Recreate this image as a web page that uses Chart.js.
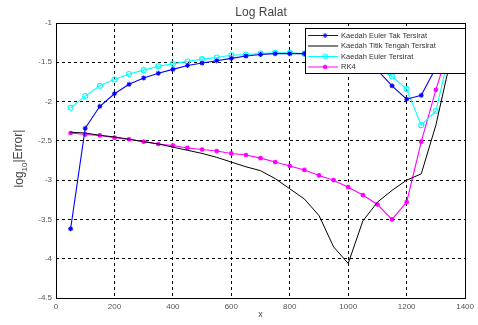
<!DOCTYPE html>
<html>
<head>
<meta charset="utf-8">
<script src="https://cdn.jsdelivr.net/npm/chart.js@4/dist/chart.umd.min.js"></script>
<style>
html,body{margin:0;padding:0;background:#fff;}
#wrap{width:478px;height:325px;position:relative;}
</style>
</head>
<body>
<div id="wrap"><canvas id="c" width="478" height="325"></canvas></div>
<script>
const chartTitle = "Log Ralat";
const xLabel = "x";
const xValues = [50,100,150,200,250,300,350,400,450,500,550,600,650,700,750,800,850,900,950,1000,1050,1100,1150,1200,1250,1300,1350];
const seriesNames = ["Kaedah Euler Tak Tersirat","Kaedah Titik Tengah Tersirat","Kaedah Euler Tersirat","RK4"];
const eulerTakTersirat = [-3.62,-2.34,-2.06,-1.90,-1.78,-1.70,-1.64,-1.59,-1.54,-1.51,-1.48,-1.45,-1.42,-1.40,-1.39,-1.39,-1.39,-1.40,-1.42,-1.45,-1.50,-1.60,-1.80,-1.97,-1.92,-1.57,-1.25];
const titikTengahTersirat = [-2.39,-2.40,-2.43,-2.45,-2.48,-2.51,-2.54,-2.58,-2.62,-2.66,-2.71,-2.77,-2.83,-2.88,-2.98,-3.11,-3.24,-3.45,-3.85,-4.06,-3.52,-3.28,-3.13,-3.00,-2.92,-2.30,-1.47];
const eulerTersirat = [-2.08,-1.93,-1.80,-1.72,-1.65,-1.60,-1.55,-1.52,-1.49,-1.46,-1.44,-1.41,-1.40,-1.39,-1.38,-1.38,-1.39,-1.40,-1.42,-1.45,-1.50,-1.58,-1.68,-1.84,-2.30,-2.12,-1.32];
const rk4 = [-2.40,-2.42,-2.43,-2.46,-2.48,-2.51,-2.54,-2.56,-2.59,-2.61,-2.63,-2.66,-2.68,-2.72,-2.77,-2.82,-2.87,-2.94,-3.00,-3.09,-3.19,-3.31,-3.50,-3.28,-2.51,-1.85,-1.25];
const xTicks = [0,200,400,600,800,1000,1200,1400];
const yTicks = [-1,-1.5,-2,-2.5,-3,-3.5,-4,-4.5];

function pts(ys){ return xValues.map((x,i)=>({x:x,y:ys[i]})); }

const FONT = "'Liberation Sans', Arial, sans-serif";

const decor = {
  id:'decor',
  afterDatasetsDraw(chart){
    const ctx = chart.ctx, a = chart.chartArea;
    ctx.save();
    ctx.strokeStyle = '#000'; ctx.lineWidth = 1; ctx.setLineDash([]);
    ctx.strokeRect(Math.round(a.left)+0.5, Math.round(a.top)+0.5, Math.round(a.right-a.left), Math.round(a.bottom-a.top));
    // legend box inside plot, top-right
    const bx = a.right - 160, by = a.top + 5, bw = 160, bh = 45;
    ctx.fillStyle = '#fff';
    ctx.fillRect(bx, by, bw, bh);
    ctx.strokeRect(Math.round(bx)+0.5, Math.round(by)+0.5, bw, bh);
    const rowH = 10.5;
    chart.data.datasets.forEach((ds,i)=>{
      const y = by + 7 + i*rowH;
      ctx.strokeStyle = ds.borderColor; ctx.lineWidth = 1;
      ctx.beginPath(); ctx.moveTo(bx+3, y+0.5); ctx.lineTo(bx+33, y+0.5); ctx.stroke();
      if (ds.pointRadius > 0) {
        ctx.fillStyle = ds.pointBackgroundColor; ctx.strokeStyle = ds.borderColor; ctx.lineWidth = 1;
        Chart.helpers.drawPoint(ctx, {pointStyle: ds.pointStyle, radius: ds.pointRadius, rotation: 0, borderWidth: 1}, bx+20, y+0.5);
      }
      ctx.fillStyle = '#333';
      ctx.font = "7.5px " + FONT;
      ctx.textBaseline = 'middle'; ctx.textAlign = 'left';
      ctx.fillText(ds.label, bx+36, y+0.5);
    });
    ctx.restore();
  },
  afterDraw(chart){
    const ctx = chart.ctx, a = chart.chartArea;
    ctx.save();
    ctx.fillStyle = '#444';
    ctx.textAlign = 'center'; ctx.textBaseline = 'middle';
    ctx.font = "12px " + FONT;
    ctx.fillText(chartTitle, (a.left+a.right)/2 + 0.5, 13);
    ctx.font = "9px " + FONT;
    ctx.fillText(xLabel, (a.left+a.right)/2, 315);
    // y label with subscript
    ctx.translate(20, (a.top+a.bottom)/2 - 2);
    ctx.rotate(-Math.PI/2);
    const f1 = "12px " + FONT, f2 = "8px " + FONT;
    ctx.font = f1; const w1 = ctx.measureText("log").width;
    ctx.font = f2; const w2 = ctx.measureText("10").width;
    ctx.font = f1; const w3 = ctx.measureText("|Error|").width;
    let x0 = -(w1+w2+w3)/2;
    ctx.textAlign = 'left';
    ctx.font = f1; ctx.fillText("log", x0, 0);
    ctx.font = f2; ctx.fillText("10", x0+w1, 5);
    ctx.font = f1; ctx.fillText("|Error|", x0+w1+w2, -1);
    ctx.restore();
  }
};

new Chart(document.getElementById('c'), {
  type: 'line',
  data: {
    datasets: [
      {label: seriesNames[0], data: pts(eulerTakTersirat), borderColor:'#0000ff', backgroundColor:'#0000ff', pointBackgroundColor:'#0000ff', pointStyle:'star', pointRadius:2.5, borderWidth:1.1},
      {label: seriesNames[1], data: pts(titikTengahTersirat), borderColor:'#000000', backgroundColor:'#000000', pointBackgroundColor:'#000000', pointRadius:0, borderWidth:1},
      {label: seriesNames[2], data: pts(eulerTersirat), borderColor:'#00ffff', backgroundColor:'#00ffff', pointBackgroundColor:'rgba(0,0,0,0)', pointStyle:'circle', pointRadius:2.5, borderWidth:1.1},
      {label: seriesNames[3], data: pts(rk4), borderColor:'#ff00ff', backgroundColor:'#ff00ff', pointBackgroundColor:'#ff00ff', pointStyle:'circle', pointRadius:1.8, borderWidth:1.1}
    ]
  },
  options: {
    responsive:false, animation:false, devicePixelRatio:1,
    layout:{padding:{top:23,right:5,left:0,bottom:0}},
    elements:{line:{tension:0}, point:{borderWidth:1, hoverRadius:3}},
    plugins:{legend:{display:false}, title:{display:false}, tooltip:{enabled:false}},
    scales:{
      x:{type:'linear', min:0, max:1400,
        afterBuildTicks(s){ s.ticks = xTicks.map(v=>({value:v})); },
        afterFit(s){ s.height = 27; },
        grid:{color:'#000', lineWidth:1, drawTicks:false},
        border:{display:false, dash:[3,3]},
        ticks:{color:'#555', font:{size:8, family:FONT}, padding:4, maxRotation:0, autoSkip:false, callback:v=>String(v)}
      },
      y:{type:'linear', min:-4.5, max:-1,
        afterBuildTicks(s){ s.ticks = yTicks.map(v=>({value:v})); },
        afterFit(s){ s.width = 56; },
        grid:{color:'#000', lineWidth:1, drawTicks:false},
        border:{display:false, dash:[3,3]},
        ticks:{color:'#555', font:{size:8, family:FONT}, padding:4, autoSkip:false, callback:v=>String(v)}
      }
    }
  },
  plugins:[decor]
});
</script>
</body>
</html>
